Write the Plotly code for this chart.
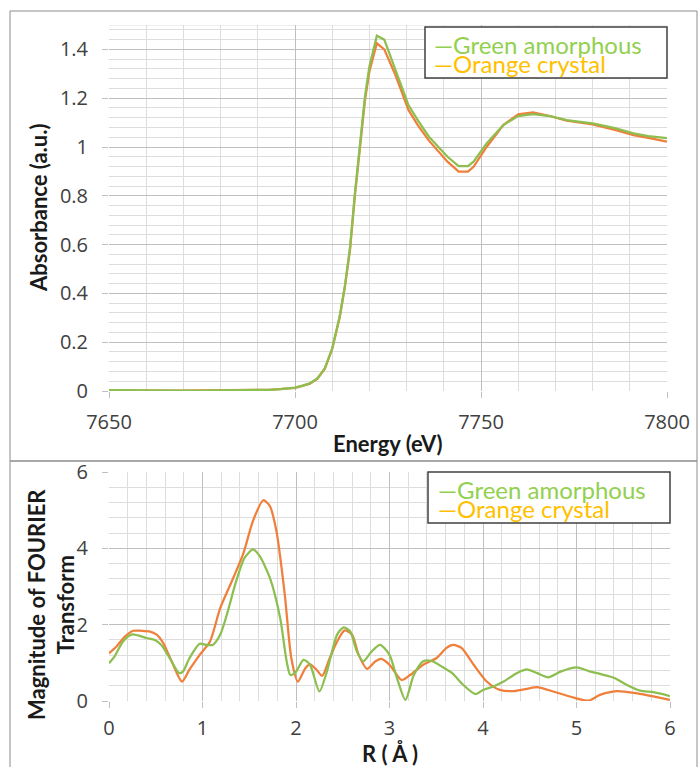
import plotly.graph_objects as go

# ---------------- data ----------------
energy_ev = [7650, 7655, 7660, 7665, 7670, 7675, 7680, 7685, 7690,
             7693, 7696, 7700, 7702, 7704, 7706, 7708, 7710,
             7712, 7713.4, 7714.8, 7716.1, 7717.5, 7718.8, 7720,
             7722, 7724, 7727, 7730.5, 7733, 7736,
             7741, 7744, 7746.5, 7748, 7751.5,
             7756, 7760, 7764, 7768.5, 7773,
             7780, 7786, 7791, 7795, 7800]
absorb_green = [0.004, 0.003, 0.002, 0.002, 0.002, 0.002, 0.002, 0.003, 0.004,
                0.005, 0.008, 0.014, 0.022, 0.031, 0.052, 0.093, 0.175,
                0.305, 0.43, 0.59, 0.81, 1.03, 1.206, 1.33,
                1.456, 1.44, 1.316, 1.172, 1.11, 1.042,
                0.96, 0.922, 0.922, 0.94, 1.015,
                1.09, 1.127, 1.135, 1.127, 1.11,
                1.097, 1.077, 1.056, 1.045, 1.036]
absorb_orange = [0.003, 0.002, 0.001, 0.001, 0.002, 0.003, 0.003, 0.004, 0.004,
                 0.005, 0.008, 0.013, 0.021, 0.03, 0.05, 0.09, 0.172,
                 0.30, 0.425, 0.58, 0.80, 1.01, 1.19, 1.31,
                 1.425, 1.40, 1.295, 1.152, 1.09, 1.026,
                 0.94, 0.899, 0.899, 0.919, 1.0,
                 1.09, 1.134, 1.142, 1.127, 1.108,
                 1.093, 1.07, 1.049, 1.037, 1.022]

r_green = [0, 0.06, 0.15, 0.24, 0.31, 0.4, 0.49, 0.56, 0.65, 0.75, 0.79, 0.86, 0.97, 1.04, 1.11,
           1.19, 1.26, 1.36, 1.45, 1.54, 1.61, 1.72, 1.83, 1.9, 1.94, 2.0, 2.08, 2.15, 2.25,
           2.33, 2.44, 2.51, 2.58, 2.65, 2.72, 2.81, 2.9, 3.0, 3.08, 3.17, 3.26, 3.36, 3.45,
           3.56, 3.67, 3.79, 3.92, 4.0, 4.11, 4.22, 4.36, 4.47, 4.58, 4.7, 4.83, 5.0, 5.15,
           5.25, 5.4, 5.54, 5.68, 5.82, 6.0]
ft_green = [0.99, 1.17, 1.56, 1.74, 1.72, 1.65, 1.6, 1.47, 1.12, 0.73, 0.77, 1.12, 1.5, 1.47, 1.47,
            1.74, 2.26, 3.14, 3.75, 3.97, 3.8, 3.23, 2.18, 1.04, 0.68, 0.77, 1.08, 0.95, 0.25,
            0.77, 1.74, 1.93, 1.82, 1.3, 1.04, 1.3, 1.47, 1.21, 0.6, 0.03, 0.68, 1.04, 1.05,
            0.9, 0.73, 0.42, 0.18, 0.29, 0.38, 0.51, 0.73, 0.83, 0.73, 0.62, 0.77, 0.88, 0.77,
            0.71, 0.61, 0.42, 0.27, 0.23, 0.13]

r_orange = [0, 0.08, 0.17, 0.26, 0.35, 0.44, 0.51, 0.58, 0.67, 0.78, 0.86, 0.97, 1.08, 1.19,
            1.33, 1.44, 1.54, 1.65, 1.72, 1.79, 1.88, 1.95, 2.02, 2.1, 2.15, 2.22, 2.28, 2.36,
            2.44, 2.52, 2.6, 2.67, 2.76, 2.85, 2.92, 3.0, 3.13, 3.22, 3.36, 3.5, 3.61, 3.68,
            3.77, 3.9, 4.04, 4.18, 4.33, 4.47, 4.59, 4.75, 4.97, 5.13, 5.25, 5.43, 5.65, 5.86, 6.0]
ft_orange = [1.25, 1.43, 1.69, 1.84, 1.84, 1.82, 1.74, 1.52, 1.04, 0.51, 0.82, 1.21, 1.56, 2.44,
             3.23, 3.89, 4.72, 5.26, 5.11, 4.46, 2.79, 1.12, 0.51, 0.86, 0.96, 0.82, 0.66, 1.12,
             1.56, 1.85, 1.74, 1.21, 0.84, 1.04, 1.1, 0.95, 0.55, 0.68, 0.95, 1.12, 1.39, 1.47,
             1.39, 0.95, 0.51, 0.29, 0.26, 0.32, 0.36, 0.25, 0.09, 0.01, 0.16, 0.26, 0.2, 0.1, 0.03]

series_names = ["Green amorphous", "Orange crystal"]
x_titles = ["Energy (eV)", "R ( Å )"]
y_titles = ["Absorbance (a.u.)", "Magnitude of FOURIER<br>Transform"]

# ---------------- style ----------------
W, H = 698, 767
GREEN = "#8CBF4F"
ORANGE = "#EF7F3A"
GREEN_TXT = "#92D050"
ORANGE_TXT = "#FFC000"
MAJ = "#BFBFBF"
MINC = "#DDDDDD"
FONT = "Lato, Carlito, Calibri, sans-serif"
TICKFONT = dict(family="Open Sans, sans-serif", size=20, color="#404040")
TITLEFONT = dict(family=FONT, size=22, color="#1a1a1a")


def fx(p):
    return p / W


def fy(p):
    return 1 - p / H


fig = go.Figure()

fig.add_trace(go.Scatter(x=energy_ev, y=absorb_orange, mode="lines", name=series_names[1],
                         line=dict(color=ORANGE, width=2.25), xaxis="x", yaxis="y", showlegend=False))
fig.add_trace(go.Scatter(x=energy_ev, y=absorb_green, mode="lines", name=series_names[0],
                         line=dict(color=GREEN, width=2.25), xaxis="x", yaxis="y", showlegend=False))
fig.add_trace(go.Scatter(x=r_orange, y=ft_orange, mode="lines", name=series_names[1],
                         line=dict(color=ORANGE, width=2.25, shape="spline", smoothing=0.7),
                         xaxis="x2", yaxis="y2", showlegend=False))
fig.add_trace(go.Scatter(x=r_green, y=ft_green, mode="lines", name=series_names[0],
                         line=dict(color=GREEN, width=2.25, shape="spline", smoothing=0.7),
                         xaxis="x2", yaxis="y2", showlegend=False))

common = dict(showgrid=True, gridcolor=MAJ, gridwidth=1, zeroline=False, showline=False,
              ticks="outside", ticklen=6, tickcolor=MAJ, tickfont=TICKFONT,
              fixedrange=True, automargin=False)

fig.update_layout(
    width=W, height=H,
    margin=dict(l=0, r=0, t=0, b=0),
    paper_bgcolor="white", plot_bgcolor="white",
    xaxis=dict(domain=[fx(109), fx(667)], anchor="y", range=[7650, 7800], tick0=7650, dtick=50,
               minor=dict(dtick=10, showgrid=True, gridcolor=MINC, ticks=""),
               ticklabelstandoff=7, **common),
    yaxis=dict(domain=[fy(391), fy(25)], anchor="x", range=[0, 1.5], tick0=0, dtick=0.2,
               minor=dict(dtick=0.04, tick0=0, showgrid=True, gridcolor=MINC, ticks=""),
               ticklabelstandoff=10, **common),
    xaxis2=dict(domain=[fx(109), fx(670)], anchor="y2", range=[0, 6], tick0=0, dtick=1,
                minor=dict(dtick=0.2, tick0=0, showgrid=True, gridcolor=MINC, ticks=""),
                ticklabelstandoff=3, **common),
    yaxis2=dict(domain=[fy(701), fy(472)], anchor="x2", range=[0, 6], tick0=0, dtick=2,
                minor=dict(dtick=0.4, tick0=0, showgrid=True, gridcolor=MINC, ticks=""),
                ticklabelstandoff=10, **common),
)

shapes = [
    # panel frames
    dict(type="rect", xref="paper", yref="paper", x0=fx(10), x1=fx(697), y0=fy(461), y1=fy(11),
         line=dict(color="#8C8C8C", width=1), fillcolor="rgba(0,0,0,0)", layer="below"),
    dict(type="rect", xref="paper", yref="paper", x0=fx(10), x1=fx(697), y0=fy(780), y1=fy(461),
         line=dict(color="#8C8C8C", width=1), fillcolor="rgba(0,0,0,0)", layer="below"),
    # top edge of upper plot area
    dict(type="line", xref="x", yref="y", x0=7650, x1=7800, y0=1.5, y1=1.5,
         line=dict(color=MINC, width=1), layer="below"),
    # legend boxes
    dict(type="rect", xref="paper", yref="paper", x0=fx(425), x1=fx(667), y0=fy(78), y1=fy(27),
         line=dict(color="#404040", width=1.5), fillcolor="white"),
    dict(type="rect", xref="paper", yref="paper", x0=fx(428), x1=fx(670), y0=fy(523), y1=fy(472),
         line=dict(color="#404040", width=1.5), fillcolor="white"),
]
fig.update_layout(shapes=shapes)

LEGFONT = 24
ann = []
# axis titles
ann.append(dict(xref="paper", yref="paper", x=fx(388), y=fy(444), xanchor="center", yanchor="middle",
                showarrow=False, text="<b>" + x_titles[0] + "</b>", font=TITLEFONT))
ann.append(dict(xref="paper", yref="paper", x=fx(390), y=fy(753), xanchor="center", yanchor="middle",
                showarrow=False, text="<b>" + x_titles[1] + "</b>", font=TITLEFONT))
ann.append(dict(xref="paper", yref="paper", x=fx(39), y=fy(208), xanchor="center", yanchor="middle",
                showarrow=False, textangle=-90, text="<b>" + y_titles[0] + "</b>", font=TITLEFONT))
ann.append(dict(xref="paper", yref="paper", x=fx(51), y=fy(605), xanchor="center", yanchor="middle",
                showarrow=False, textangle=-90, text="<b>" + y_titles[1] + "</b>", font=TITLEFONT))
# legends
for (ybox, xleft) in [((44, 63), 432), ((489.5, 509), 436)]:
    ann.append(dict(xref="paper", yref="paper", x=fx(xleft), y=fy(ybox[0]), xanchor="left",
                    yanchor="middle", showarrow=False, text="—" + series_names[0],
                    font=dict(family=FONT, size=LEGFONT, color=GREEN_TXT)))
    ann.append(dict(xref="paper", yref="paper", x=fx(xleft), y=fy(ybox[1]), xanchor="left",
                    yanchor="middle", showarrow=False, text="—" + series_names[1],
                    font=dict(family=FONT, size=LEGFONT, color=ORANGE_TXT)))
fig.update_layout(annotations=ann)

fig.write_html("out.html")
